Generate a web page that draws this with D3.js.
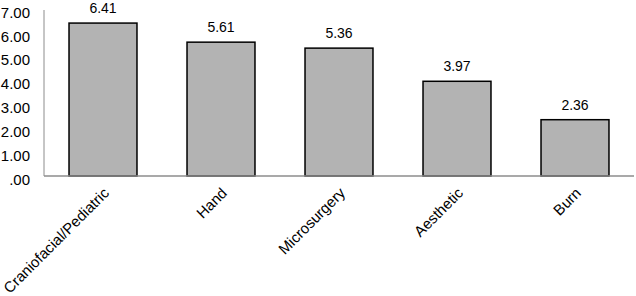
<!DOCTYPE html>
<html lang="en">
<head>
    <meta charset="UTF-8" />
    <title>Scores by Subspecialty</title>
    <script src="https://d3js.org/d3.v7.min.js"></script>
    <style>
        body {
            margin: 0;
            background: #fff;
        }
        text {
            font-family: "Liberation Sans", Arial, sans-serif;
            fill: #000;
        }
    </style>
</head>
<body>
    <svg id="chart" width="636" height="296"></svg>

    <script>
        const categories = ["Craniofacial/Pediatric", "Hand", "Microsurgery", "Aesthetic", "Burn"];
        const values = [6.41, 5.61, 5.36, 3.97, 2.36];
        const yTicks = [0, 1, 2, 3, 4, 5, 6, 7];

        const svg = d3.select("#chart");
        const margin = { top: 9, right: 2, bottom: 120, left: 44 };
        const width = 636 - margin.left - margin.right;
        const height = 296 - margin.top - margin.bottom;

        const g = svg.append("g")
            .attr("transform", `translate(${margin.left},${margin.top})`);

        const x = d3.scaleBand()
            .domain(categories)
            .range([0, width])
            .paddingInner(0.424)
            .paddingOuter(0.212);

        const y = d3.scaleLinear()
            .domain([0, 7])
            .range([height, 0]);

        // y axis labels, no ticks
        const yAxis = g.append("g")
            .call(d3.axisLeft(y).tickValues(yTicks).tickSize(0).tickPadding(14)
                .tickFormat(d => d3.format(".2f")(d).replace(/^0/, "")));
        yAxis.select(".domain").attr("stroke", "#8c8c8c").attr("d", `M0,${y(7) + 1}V${height}`);
        yAxis.selectAll("text")
            .attr("font-size", "15px")
            .attr("dy", "0.55em")
            .style("font-family", "'Liberation Sans', Arial, sans-serif");

        // bars
        g.selectAll("rect")
            .data(values)
            .enter()
            .append("rect")
            .attr("x", (d, i) => x(categories[i]))
            .attr("y", d => y(d))
            .attr("width", x.bandwidth())
            .attr("height", d => height - y(d))
            .attr("fill", "#b3b3b3")
            .attr("stroke", "#000")
            .attr("stroke-width", 1.5);

        // x baseline
        g.append("line")
            .attr("x1", 0)
            .attr("x2", width)
            .attr("y1", height)
            .attr("y2", height)
            .attr("stroke", "#8c8c8c")
            .attr("stroke-width", 1.3);

        // value labels
        g.selectAll(".val")
            .data(values)
            .enter()
            .append("text")
            .attr("class", "val")
            .attr("x", (d, i) => x(categories[i]) + x.bandwidth() / 2)
            .attr("y", d => y(d) - 10)
            .attr("text-anchor", "middle")
            .attr("font-size", "14px")
            .text(d => d.toFixed(2));

        // category labels, rotated
        g.selectAll(".cat")
            .data(categories)
            .enter()
            .append("text")
            .attr("class", "cat")
            .attr("text-anchor", "end")
            .attr("font-size", "15px")
            .attr("transform", d => `translate(${x(d) + x.bandwidth() / 2 + 7},${height + 18}) rotate(-45)`)
            .text(d => d);
    </script>
</body>
</html>
